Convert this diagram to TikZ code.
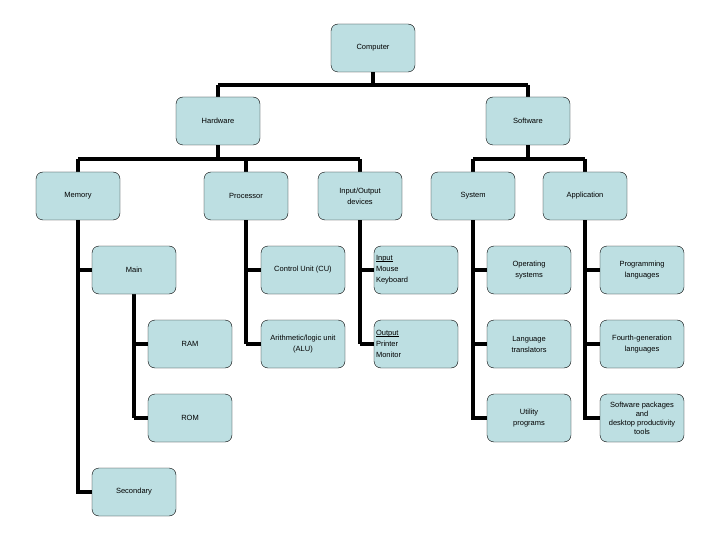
\documentclass[tikz,border=0pt]{standalone}
\usepackage{fontspec}
\setmainfont{Liberation Sans}
\definecolor{boxfill}{HTML}{BDDFE2}
\tikzset{
  box/.style={draw,fill=boxfill,rounded corners=7pt,minimum width=84pt,minimum height=48pt,
    inner sep=2pt,align=center,font=\fontsize{7.5}{11}\selectfont},
  link/.style={line width=3.5pt}
}
\newcommand{\headline}[1]{\rlap{#1}\rule[-1.2pt]{\widthof{#1}}{0.6pt}}
\usepackage{calc}
\begin{document}
\begin{tikzpicture}[x=1pt,y=-1pt]
  \useasboundingbox (0,0) rectangle (720,540);
  % links first
  \coordinate (c1) at (373,85);
  \coordinate (h1) at (218,159);
  \coordinate (s1) at (528,159);
  \draw[link] (373,48) -- (c1) (218,85) -- (528,85);
  \draw[link] (218,85) -- (218,121) (528,85) -- (528,121);
  \draw[link] (218,121) -- (h1) (78,159) -- (360,159);
  \draw[link] (78,159) -- (78,196) (246,159) -- (246,196) (360,159) -- (360,196);
  \draw[link] (528,121) -- (s1) (473,159) -- (585,159);
  \draw[link] (473,159) -- (473,196) (585,159) -- (585,196);
  % spines
  \draw[link] (78,196) -- (78,492) -- (134,492);
  \draw[link] (78,270) -- (134,270);
  \draw[link] (134,270) -- (134,418);
  \foreach \y in {344,418} \draw[link] (134,\y) -- (190,\y);
  \foreach \x in {246,360,473,585} {
    \draw[link] (\x,196) -- (\x,344);
    \foreach \y in {270,344} \draw[link] (\x,\y) -- ++(57,0);
  }
  \foreach \x in {473,585} \draw[link] (\x,344) -- (\x,418) -- ++(57,0);
  % boxes
  \node[box] (computer) at (373,48) {Computer};
  \node[box] (hardware) at (218,121) {Hardware};
  \node[box] (software) at (528,121) {Software};
  \node[box] (memory) at (78,196) {Memory};
  \node[box] (processor) at (246,196) {Processor};
  \node[box] (io) at (360,196) {Input/Output\\devices};
  \node[box] (system) at (473,196) {System};
  \node[box] (application) at (585,196) {Application};
  \node[box] (main) at (134,270) {Main};
  \node[box] (ram) at (190,344) {RAM};
  \node[box] (rom) at (190,418) {ROM};
  \node[box] (secondary) at (134,492) {Secondary};
  \node[box] (cu) at (303,270) {Control Unit (CU)};
  \node[box] (alu) at (303,344) {Arithmetic/logic unit\\(ALU)};
  \node[box,align=left,text width=80pt] (input) at (416,270) {\headline{Input}\\Mouse\\Keyboard};
  \node[box,align=left,text width=80pt] (output) at (416,344) {\headline{Output}\\Printer\\Monitor};
  \node[box] (os) at (529,270) {Operating\\systems};
  \node[box] (lt) at (529,344) {Language\\translators};
  \node[box] (util) at (529,418) {Utility\\programs};
  \node[box] (prog) at (642,270) {Programming\\languages};
  \node[box] (fourth) at (642,344) {Fourth-generation\\languages};
  \node[box,font=\fontsize{7.5}{9}\selectfont] (pkg) at (642,418) {Software packages\\and\\desktop productivity\\tools};
\end{tikzpicture}
\end{document}
